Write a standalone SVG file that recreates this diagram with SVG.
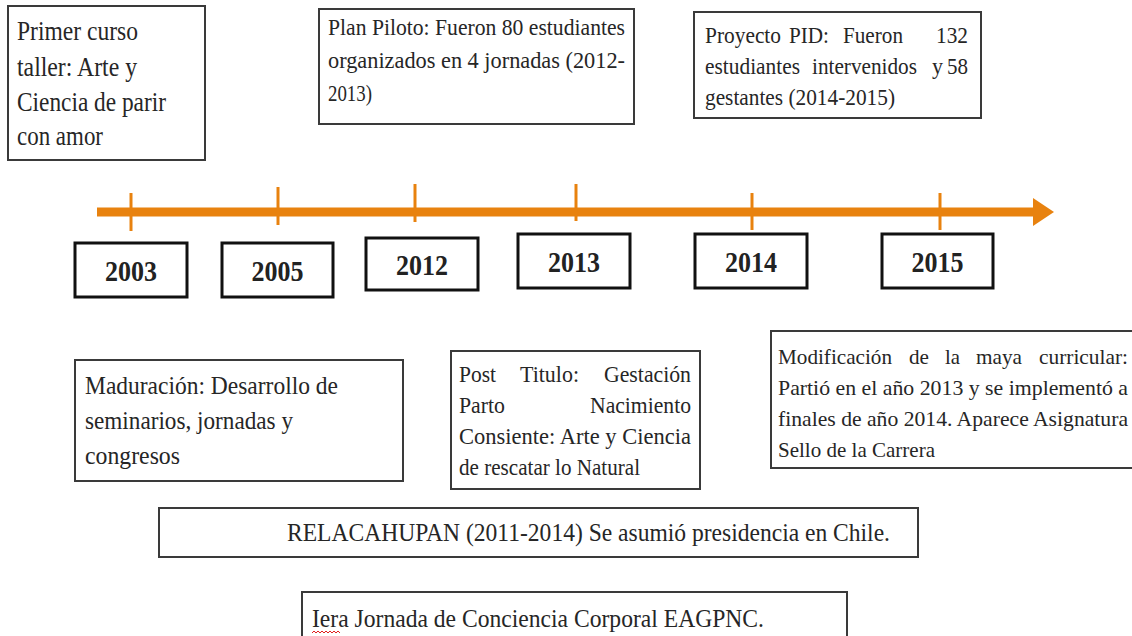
<svg xmlns="http://www.w3.org/2000/svg" width="1132" height="636" viewBox="0 0 1132 636">
<defs>
<style>
.box{fill:#fff;stroke:#3a3a3a;stroke-width:2}
.ybox{fill:#fff;stroke:#111;stroke-width:3}
.t{font-family:"Liberation Serif","Times New Roman",serif;fill:#262626}
.y{font-family:"Liberation Serif","Times New Roman",serif;font-weight:bold;font-size:30px;fill:#222;text-anchor:middle}
.axis{stroke:#E8820F;stroke-width:9;fill:none}
.tick{stroke:#E8820F;stroke-width:3}
</style>
</defs>
<rect width="1132" height="636" fill="#fff"/>

<g id="connectors">
<line class="axis" x1="97" y1="212" x2="1036" y2="212"/>
<polygon points="1033,198 1054,212 1033,226" fill="#E8820F"/>
<line class="tick" x1="131" y1="193" x2="131" y2="231"/>
<line class="tick" x1="278" y1="187" x2="278" y2="225"/>
<line class="tick" x1="415" y1="184" x2="415" y2="222"/>
<line class="tick" x1="576" y1="184" x2="576" y2="221"/>
<line class="tick" x1="752" y1="193" x2="752" y2="230"/>
<line class="tick" x1="940" y1="193" x2="940" y2="230"/>
</g>

<g id="n-primer">
<rect class="box" x="8" y="6" width="197" height="154"/>
<g class="t" font-size="27">
<text x="17" y="40" textLength="121" lengthAdjust="spacingAndGlyphs">Primer curso</text>
<text x="17" y="76" textLength="120" lengthAdjust="spacingAndGlyphs">taller: Arte y</text>
<text x="17" y="111" textLength="149" lengthAdjust="spacingAndGlyphs">Ciencia de parir</text>
<text x="17" y="145" textLength="86" lengthAdjust="spacingAndGlyphs">con amor</text>
</g>
</g>

<g id="n-piloto">
<rect class="box" x="319" y="9" width="315" height="115"/>
<g class="t" font-size="24">
<text x="328" y="35" textLength="297" lengthAdjust="spacingAndGlyphs">Plan Piloto: Fueron 80 estudiantes</text>
<text x="328" y="68" textLength="297" lengthAdjust="spacingAndGlyphs">organizados en 4 jornadas (2012-</text>
<text x="328" y="101" textLength="44" lengthAdjust="spacingAndGlyphs">2013)</text>
</g>
</g>

<g id="n-pid">
<rect class="box" x="694" y="12" width="287" height="106"/>
<g class="t" font-size="24">
<text x="705" y="43" textLength="76" lengthAdjust="spacingAndGlyphs">Proyecto</text>
<text x="789" y="43" textLength="40" lengthAdjust="spacingAndGlyphs">PID:</text>
<text x="843" y="43" textLength="60" lengthAdjust="spacingAndGlyphs">Fueron</text>
<text x="936" y="43" textLength="32" lengthAdjust="spacingAndGlyphs">132</text>
<text x="705" y="74" textLength="95" lengthAdjust="spacingAndGlyphs">estudiantes</text>
<text x="812" y="74" textLength="105" lengthAdjust="spacingAndGlyphs">intervenidos</text>
<text x="932" y="74" textLength="11" lengthAdjust="spacingAndGlyphs">y</text>
<text x="947" y="74" textLength="21" lengthAdjust="spacingAndGlyphs">58</text>
<text x="705" y="105" textLength="190" lengthAdjust="spacingAndGlyphs">gestantes (2014-2015)</text>
</g>
</g>

<g id="y2003"><rect class="ybox" x="75" y="243" width="112" height="54"/><text class="y" x="131" y="281" textLength="52" lengthAdjust="spacingAndGlyphs">2003</text></g>
<g id="y2005"><rect class="ybox" x="222" y="243" width="111" height="54"/><text class="y" x="277.5" y="281" textLength="52" lengthAdjust="spacingAndGlyphs">2005</text></g>
<g id="y2012"><rect class="ybox" x="366" y="238" width="112" height="52"/><text class="y" x="422" y="275" textLength="52" lengthAdjust="spacingAndGlyphs">2012</text></g>
<g id="y2013"><rect class="ybox" x="518" y="234" width="112" height="54"/><text class="y" x="574" y="272" textLength="52" lengthAdjust="spacingAndGlyphs">2013</text></g>
<g id="y2014"><rect class="ybox" x="695" y="234" width="112" height="54"/><text class="y" x="751" y="272" textLength="52" lengthAdjust="spacingAndGlyphs">2014</text></g>
<g id="y2015"><rect class="ybox" x="882" y="234" width="111" height="54"/><text class="y" x="937.5" y="272" textLength="52" lengthAdjust="spacingAndGlyphs">2015</text></g>

<g id="n-maduracion">
<rect class="box" x="75" y="360" width="328" height="121"/>
<g class="t" font-size="26">
<text x="85" y="394" textLength="253" lengthAdjust="spacingAndGlyphs">Maduración: Desarrollo de</text>
<text x="85" y="429" textLength="208" lengthAdjust="spacingAndGlyphs">seminarios, jornadas y</text>
<text x="85" y="464" textLength="95" lengthAdjust="spacingAndGlyphs">congresos</text>
</g>
</g>

<g id="n-posttitulo">
<rect class="box" x="451" y="351" width="249" height="138"/>
<g class="t" font-size="23">
<text x="459" y="382" textLength="37" lengthAdjust="spacingAndGlyphs">Post</text>
<text x="520" y="382" textLength="59" lengthAdjust="spacingAndGlyphs">Titulo:</text>
<text x="604" y="382" textLength="87" lengthAdjust="spacingAndGlyphs">Gestación</text>
<text x="459" y="413" textLength="46" lengthAdjust="spacingAndGlyphs">Parto</text>
<text x="590" y="413" textLength="101" lengthAdjust="spacingAndGlyphs">Nacimiento</text>
<text x="459" y="444" textLength="232" lengthAdjust="spacingAndGlyphs">Consiente: Arte y Ciencia</text>
<text x="459" y="475" textLength="181" lengthAdjust="spacingAndGlyphs">de rescatar lo Natural</text>
</g>
</g>

<g id="n-modificacion">
<rect class="box" x="771" y="331" width="370" height="137"/>
<g class="t" font-size="21.5">
<text x="778" y="364" textLength="114" lengthAdjust="spacingAndGlyphs">Modificación</text>
<text x="909" y="364" textLength="20" lengthAdjust="spacingAndGlyphs">de</text>
<text x="945" y="364" textLength="15" lengthAdjust="spacingAndGlyphs">la</text>
<text x="976" y="364" textLength="46" lengthAdjust="spacingAndGlyphs">maya</text>
<text x="1039" y="364" textLength="89" lengthAdjust="spacingAndGlyphs">curricular:</text>
<text x="778" y="395" textLength="350" lengthAdjust="spacingAndGlyphs">Partió en el año 2013 y se implementó a</text>
<text x="778" y="426" textLength="350" lengthAdjust="spacingAndGlyphs">finales de año 2014. Aparece Asignatura</text>
<text x="778" y="457" textLength="157" lengthAdjust="spacingAndGlyphs">Sello de la Carrera</text>
</g>
</g>

<g id="n-relacahupan">
<rect class="box" x="159" y="508" width="759" height="49"/>
<text class="t" font-size="25" x="287" y="541" textLength="603" lengthAdjust="spacingAndGlyphs">RELACAHUPAN (2011-2014) Se asumió presidencia en Chile.</text>
</g>

<g id="n-iera">
<rect class="box" x="302" y="592" width="545" height="60"/>
<text class="t" font-size="25" x="312" y="627" textLength="452" lengthAdjust="spacingAndGlyphs">Iera Jornada de Conciencia Corporal EAGPNC.</text>
<polyline points="312,633 314,631 316,633 318,631 320,633 322,631 324,633 326,631 328,633 330,631 332,633 334,631 336,633 338,631 340,633" fill="none" stroke="#e02020" stroke-width="1"/>
</g>
</svg>
